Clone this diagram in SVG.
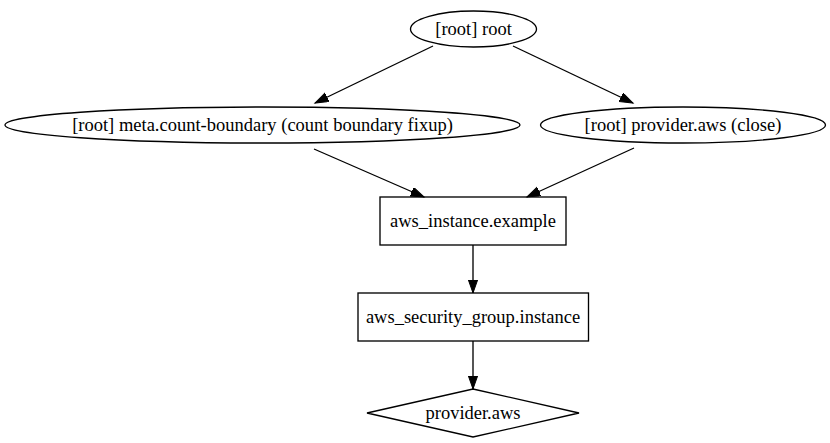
<svg xmlns="http://www.w3.org/2000/svg" width="830" height="443" viewBox="0 0 830 443">
<style>
.n{fill:none;stroke:#000;stroke-width:1.33}
.t{font-family:"Liberation Serif","Times New Roman",serif;font-size:18.5px;fill:#000;text-anchor:middle}
.e{fill:none;stroke:#000;stroke-width:1.33}
</style>
<defs>
<marker id="a" markerUnits="userSpaceOnUse" markerWidth="15" markerHeight="11" refX="13.3" refY="4.7" orient="auto" viewBox="0 0 15 11">
<path d="M0,0 L13.3,4.7 L0,9.4 z" fill="#000" stroke="#000" stroke-width="1"/>
</marker>
</defs>
<rect width="830" height="443" fill="#fff"/>
<g id="edges">
<line class="e" x1="433" y1="46" x2="315" y2="103" marker-end="url(#a)"/>
<line class="e" x1="513" y1="46" x2="633" y2="103" marker-end="url(#a)"/>
<line class="e" x1="314" y1="149" x2="424" y2="197" marker-end="url(#a)"/>
<line class="e" x1="634" y1="148" x2="527" y2="197" marker-end="url(#a)"/>
<line class="e" x1="473" y1="245" x2="473" y2="293" marker-end="url(#a)"/>
<line class="e" x1="473" y1="341" x2="473" y2="389" marker-end="url(#a)"/>
</g>
<g id="root">
<ellipse class="n" cx="473.5" cy="29" rx="63" ry="18"/>
<text class="t" x="473.5" y="35">[root] root</text>
</g>
<g id="meta">
<ellipse class="n" cx="262.5" cy="125" rx="257.5" ry="18"/>
<text class="t" x="262.5" y="131">[root] meta.count-boundary (count boundary fixup)</text>
</g>
<g id="provclose">
<ellipse class="n" cx="683" cy="125" rx="142.5" ry="18"/>
<text class="t" x="683" y="131">[root] provider.aws (close)</text>
</g>
<g id="instance">
<rect class="n" x="380" y="197" width="186" height="48"/>
<text class="t" x="473" y="227">aws_instance.example</text>
</g>
<g id="sg">
<rect class="n" x="358" y="293" width="230.5" height="48"/>
<text class="t" x="473" y="323">aws_security_group.instance</text>
</g>
<g id="provider">
<polygon class="n" points="473,389 579,413 473,437 367,413"/>
<text class="t" x="473" y="419">provider.aws</text>
</g>
</svg>
